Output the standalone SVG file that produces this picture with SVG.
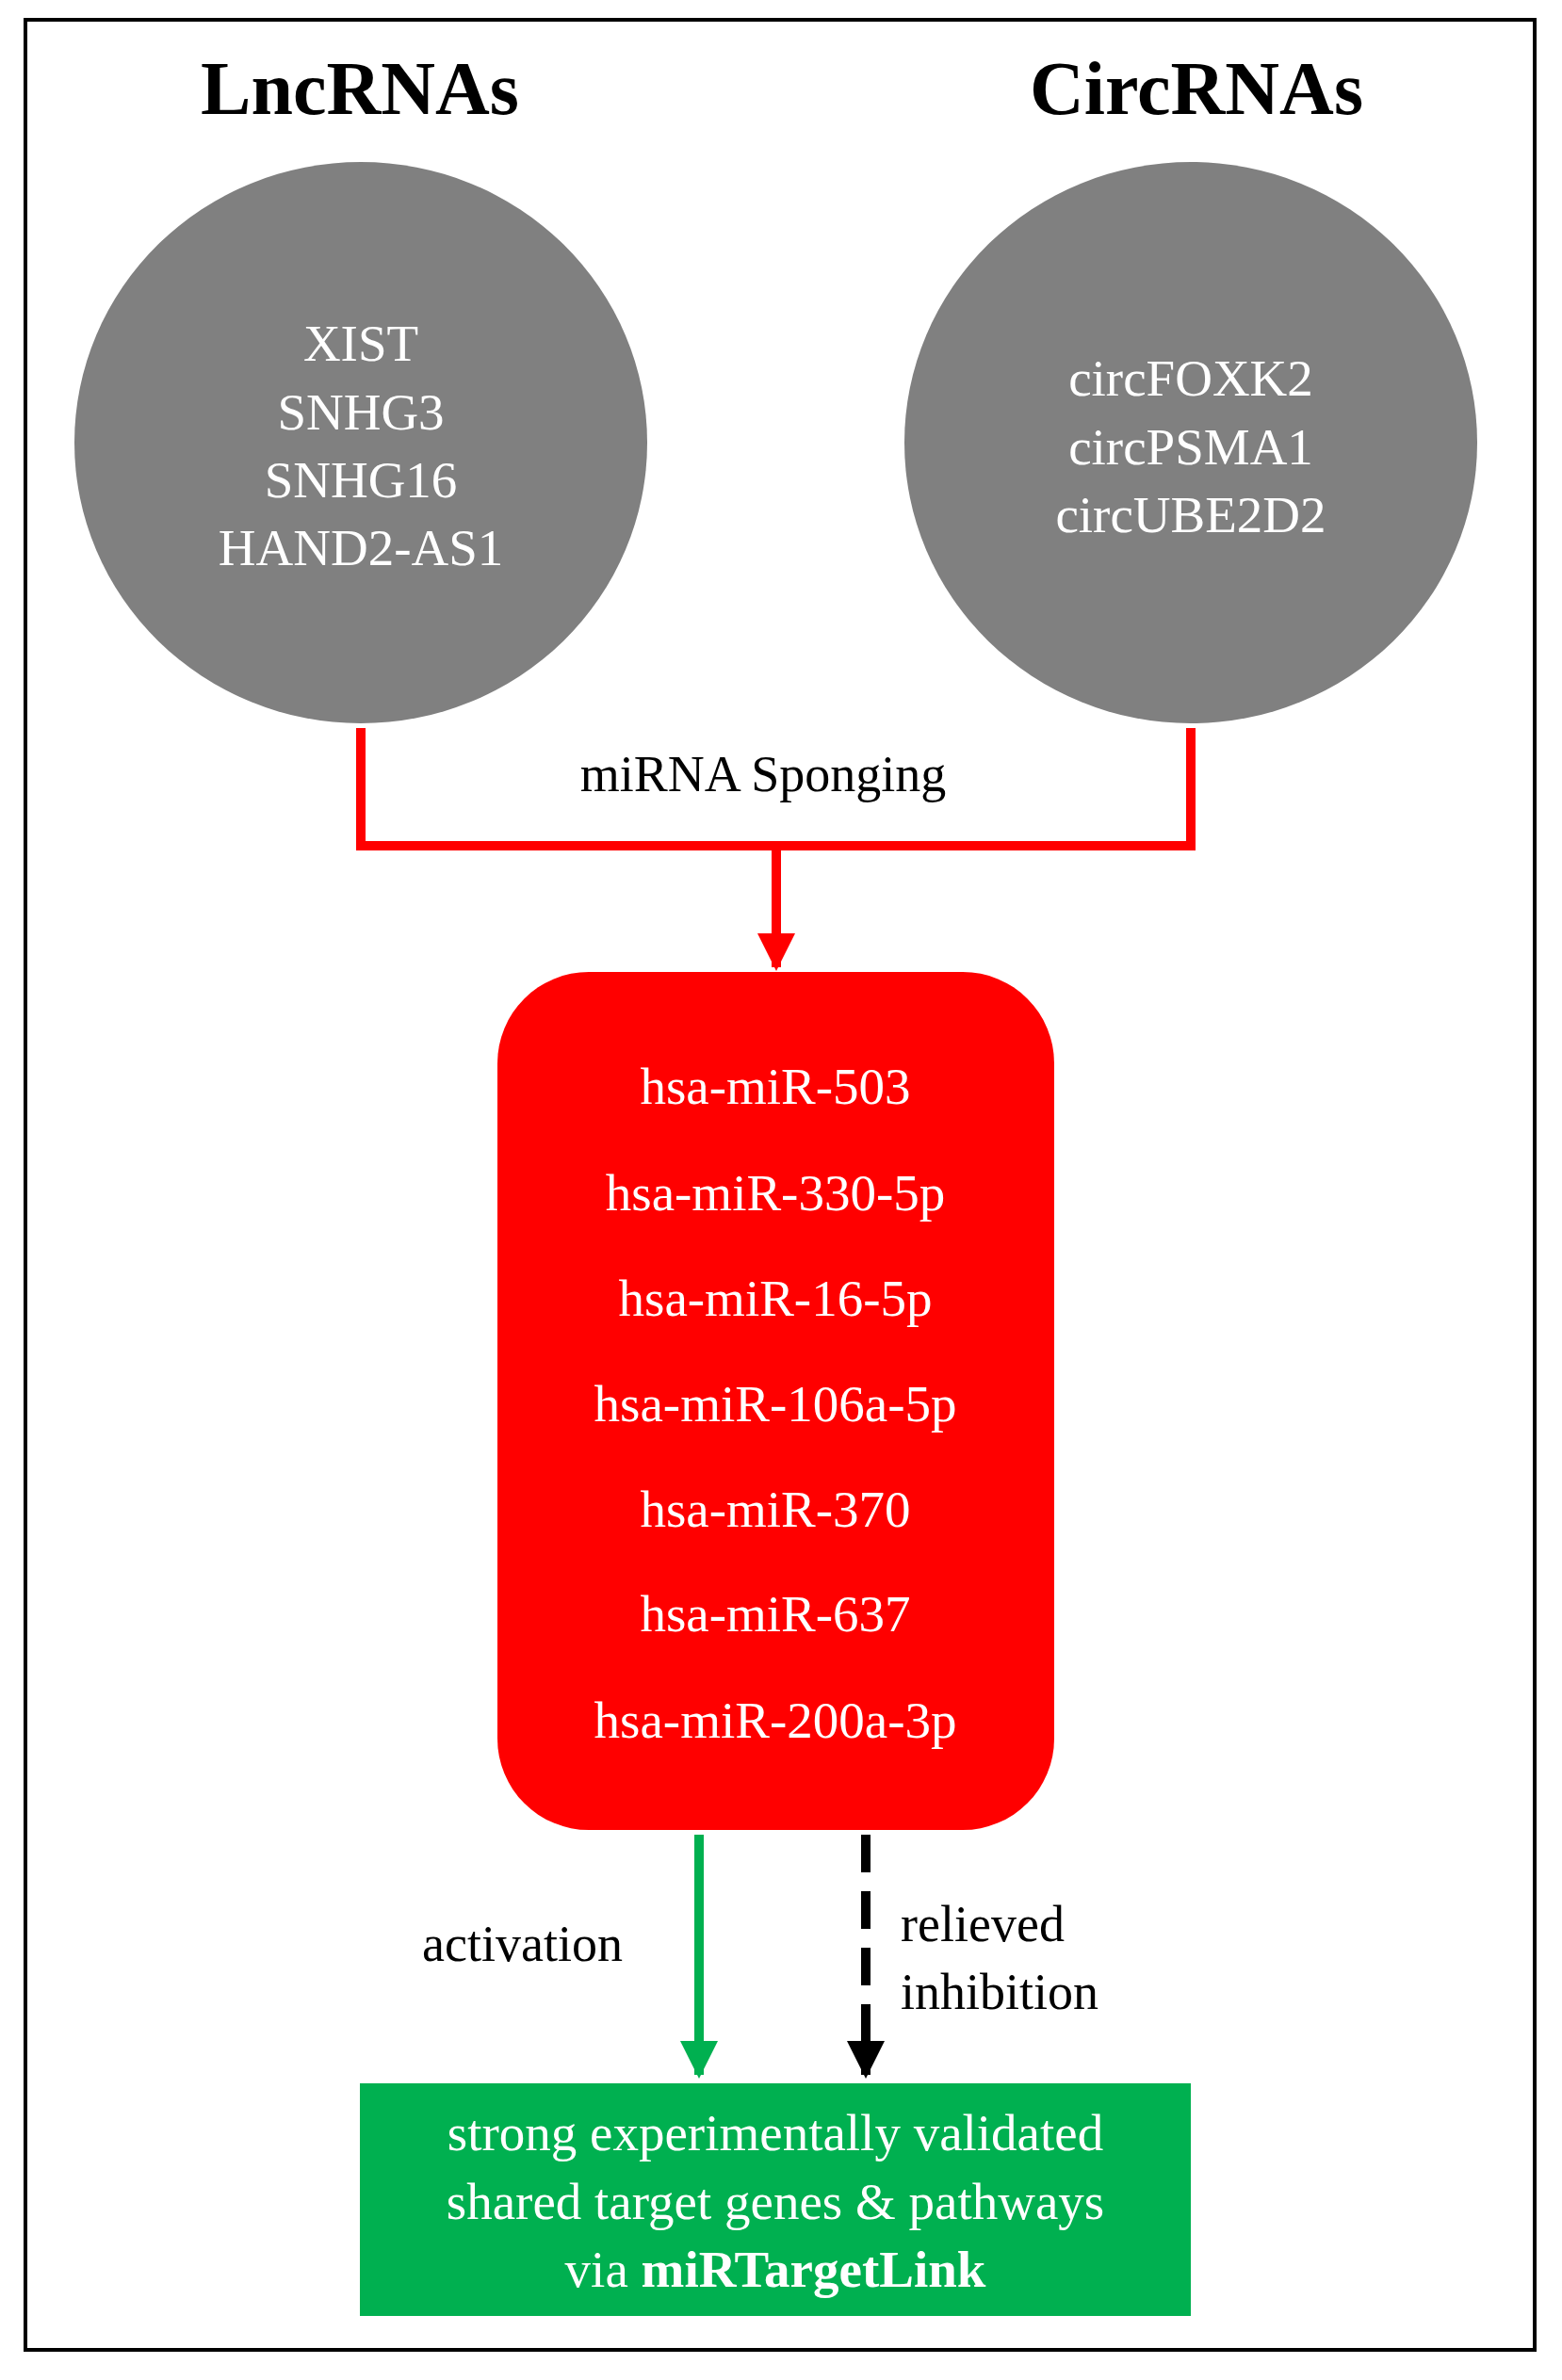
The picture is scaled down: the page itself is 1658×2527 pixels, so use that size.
<svg xmlns="http://www.w3.org/2000/svg" width="1658" height="2527" viewBox="0 0 1658 2527">
<style>
text{font-family:"Liberation Serif","Times New Roman",serif;text-anchor:middle}
.w{fill:#fff;font-size:55px}
.b{fill:#000;font-size:54px}
.t{font-size:80px;font-weight:bold}
</style>
<defs>
<marker id="ar" viewBox="0 0 10 10" refX="9" refY="5" markerWidth="4" markerHeight="4" markerUnits="strokeWidth" orient="auto"><path d="M0,0L10,5L0,10z" fill="#ff0000"/></marker>
<marker id="ag" viewBox="0 0 10 10" refX="9" refY="5" markerWidth="4" markerHeight="4" markerUnits="strokeWidth" orient="auto"><path d="M0,0L10,5L0,10z" fill="#00b050"/></marker>
<marker id="ak" viewBox="0 0 10 10" refX="9" refY="5" markerWidth="4" markerHeight="4" markerUnits="strokeWidth" orient="auto"><path d="M0,0L10,5L0,10z" fill="#000"/></marker>
</defs>
<rect x="0" y="0" width="1658" height="2527" fill="#fff"/>
<rect x="27" y="21" width="1602" height="2474" fill="none" stroke="#000" stroke-width="4"/>
<text class="t" x="382" y="121">LncRNAs</text>
<text class="t" x="1270" y="121">CircRNAs</text>
<g id="lnc">
<ellipse cx="383" cy="470" rx="304" ry="298" fill="#808080"/>
<text class="w" x="383" y="383">XIST</text>
<text class="w" x="383" y="456">SNHG3</text>
<text class="w" x="383" y="528">SNHG16</text>
<text class="w" x="383" y="600">HAND2-AS1</text>
</g>
<g id="circ">
<ellipse cx="1264" cy="470" rx="304" ry="298" fill="#808080"/>
<text class="w" x="1264" y="420">circFOXK2</text>
<text class="w" x="1264" y="493">circPSMA1</text>
<text class="w" x="1264" y="565">circUBE2D2</text>
</g>
<g id="mirna">
<rect x="528" y="1032" width="591" height="911" rx="97" fill="#ff0000"/>
<text class="w" x="823" y="1172">hsa-miR-503</text>
<text class="w" x="823" y="1285">hsa-miR-330-5p</text>
<text class="w" x="823" y="1397">hsa-miR-16-5p</text>
<text class="w" x="823" y="1509">hsa-miR-106a-5p</text>
<text class="w" x="823" y="1621">hsa-miR-370</text>
<text class="w" x="823" y="1732">hsa-miR-637</text>
<text class="w" x="823" y="1845">hsa-miR-200a-3p</text>
</g>
<g id="targets">
<rect x="382" y="2212" width="882" height="247" fill="#00b050"/>
<text class="w" x="823" y="2283">strong experimentally validated</text>
<text class="w" x="823" y="2356">shared target genes &amp; pathways</text>
<text class="w" x="823" y="2428">via <tspan font-weight="bold">miRTargetLink</tspan></text>
</g>
<g id="connectors" fill="none">
<path d="M383,773V898H1264V773" stroke="#ff0000" stroke-width="10"/>
<path d="M824,898V1027" stroke="#ff0000" stroke-width="10" marker-end="url(#ar)"/>
<path d="M742,1948V2203" stroke="#00b050" stroke-width="10" marker-end="url(#ag)"/>
<path d="M919,1948V2203" stroke="#000" stroke-width="10" stroke-dasharray="40,20" marker-end="url(#ak)"/>
</g>
<text class="b" x="810" y="840">miRNA Sponging</text>
<text class="b" x="448" y="2082" text-anchor="start" style="text-anchor:start">activation</text>
<text class="b" x="956" y="2061" style="text-anchor:start">relieved</text>
<text class="b" x="956" y="2133" style="text-anchor:start">inhibition</text>
</svg>
